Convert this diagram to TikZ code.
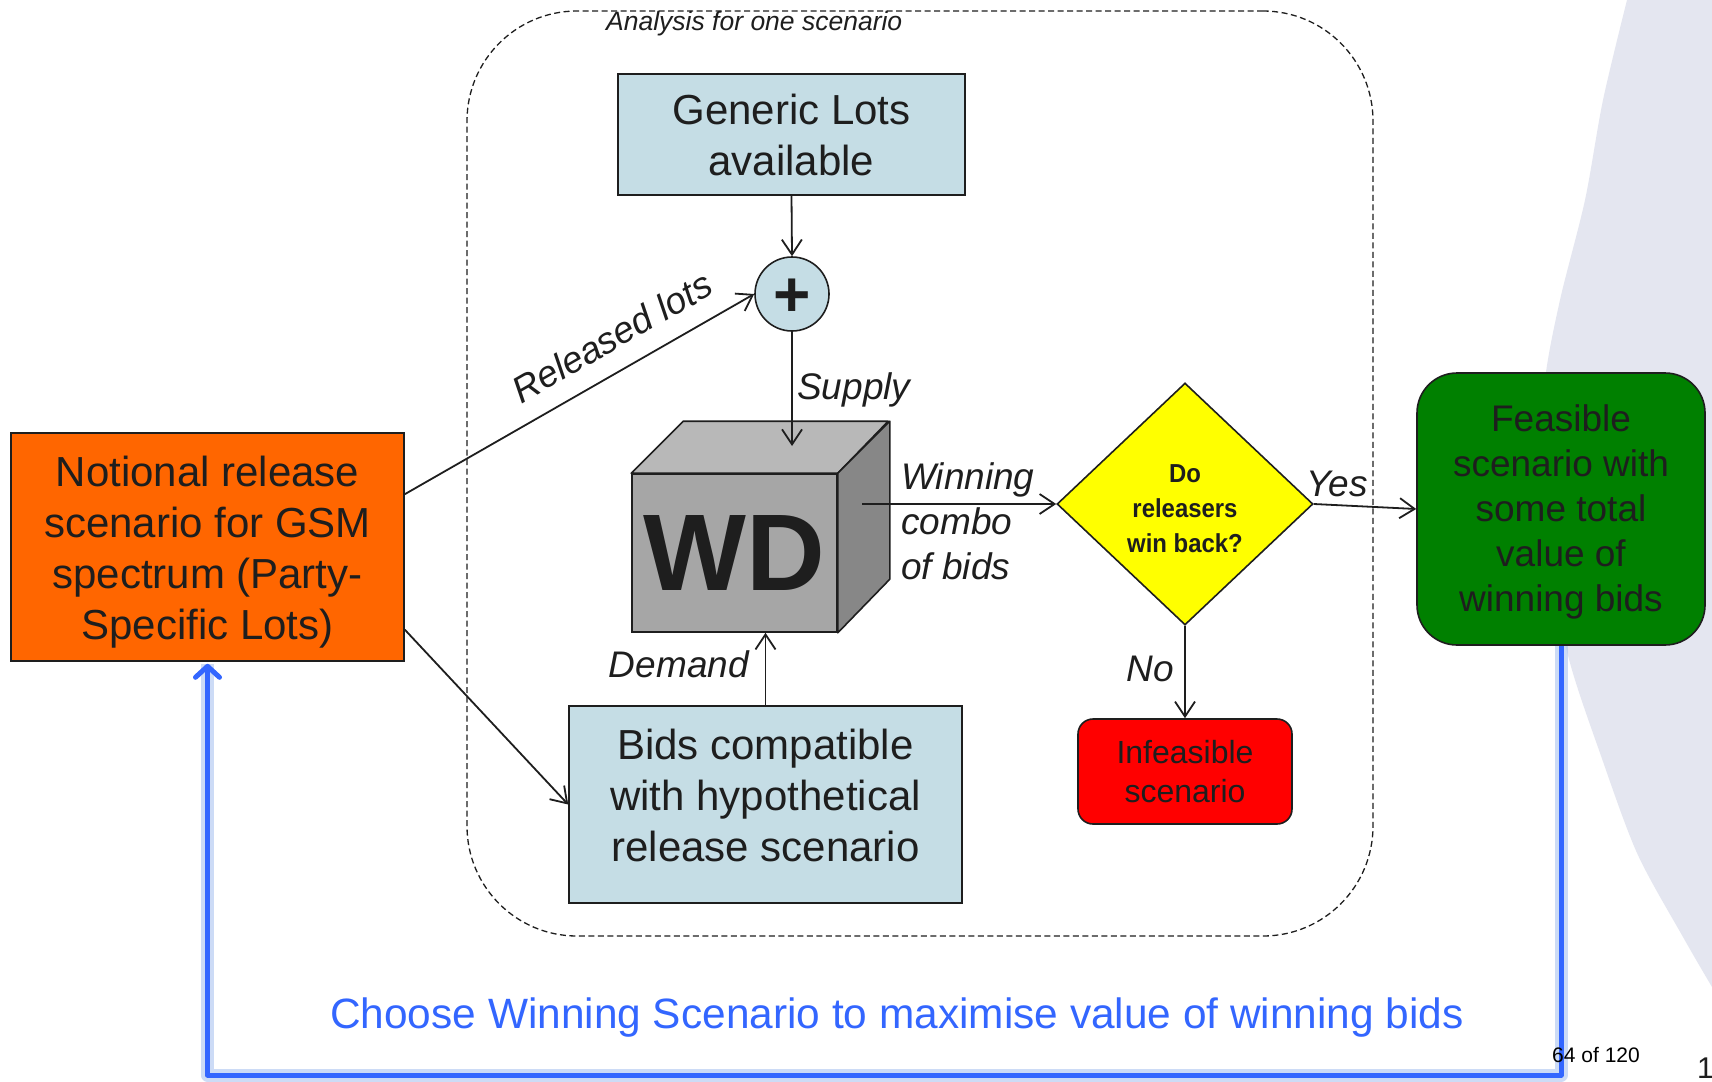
\documentclass[tikz,border=0pt]{standalone}
\usepackage{fontspec}
\setmainfont{Liberation Sans}
\newfontfamily\narrowfont[FakeStretch=0.92]{Liberation Sans}
\usetikzlibrary{arrows.meta,shapes.geometric,calc}
\definecolor{txt}{RGB}{30,30,30}
\definecolor{lblue}{RGB}{197,221,229}
\definecolor{orng}{RGB}{255,102,0}
\definecolor{grn}{RGB}{0,128,0}
\definecolor{redbox}{RGB}{255,0,0}
\definecolor{yel}{RGB}{255,255,0}
\definecolor{loopblue}{RGB}{51,102,255}
\definecolor{glowblue}{RGB}{170,195,240}
\definecolor{bggray}{RGB}{228,230,240}
\definecolor{cubefront}{RGB}{166,166,166}
\definecolor{cubetop}{RGB}{184,184,184}
\definecolor{cubeside}{RGB}{135,135,135}
\begin{document}
\begin{tikzpicture}[x=1pt,y=-1pt,
  box/.style={draw=txt, line width=1.6pt, inner sep=0pt, align=center, text=txt},
  boxtext/.style={inner sep=0pt, align=center, text=txt},
  bigtext/.style={font=\fontsize{42}{51}\selectfont},
  midtext/.style={font=\fontsize{37}{45}\selectfont},
  lbl/.style={font=\itshape\fontsize{37}{45}\selectfont, text=txt, inner sep=0pt},
  conn/.style={draw=txt, line width=1.8pt, -{Straight Barb[length=15pt,width=20pt]}},
]
\fill[white] (0,0) rectangle (1712,1081);
\useasboundingbox (0,0) rectangle (1712,1081);
% background curve
\fill[bggray] plot[smooth] coordinates {(1627,0) (1603,100) (1585,200) (1560,300) (1545,380) (1541,470) (1550,570) (1570,663) (1600,753) (1637,853) (1683,937) (1712,987)} -- (1712,0) -- cycle;

% container
\node[draw=txt, dash pattern=on 6pt off 3.5pt, line width=1.3pt, rounded corners=110pt,
      minimum width=906pt, minimum height=925pt, inner sep=0pt] (scen) at (920,473.5) {};
\node[anchor=west, font=\itshape\fontsize{26.5}{30}\selectfont, text=txt, inner sep=0pt] (scenlbl) at (606,24) {Analysis for one scenario};

% boxes
\node[box, fill=orng, minimum width=393pt, minimum height=228pt] (nat) at (207.5,547) {};
\node[boxtext, bigtext] (natT) at (207.5,552)
  {Notional release\\scenario for GSM\\spectrum (Party-\\Specific Lots)};
\node[box, fill=lblue, bigtext, minimum width=347pt, minimum height=121pt] (gen) at (791.5,134.5)
  {Generic Lots\\available};
\node[circle, draw=txt, line width=1.6pt, fill=lblue, minimum size=74pt, inner sep=0pt,
      font=\bfseries\fontsize{64}{64}\selectfont, text=txt] (plus) at (792,294) {\raisebox{-22pt}[0pt][0pt]{+}};
\node[box, fill=lblue, minimum width=393pt, minimum height=197pt] (bids) at (765.5,804.5) {};
\node[boxtext, bigtext] (bidsT) at (765.5,795.5)
  {Bids compatible\\with hypothetical\\release scenario};

% cube
\node[draw=txt, line width=1.6pt, fill=cubefront, minimum width=205pt, minimum height=158pt,
      inner sep=0pt, font=\bfseries\fontsize{109}{109}\selectfont, text=txt] (wd) at (734.5,553) {WD};
\draw[fill=cubetop, draw=txt, line width=1.6pt, line join=round]
  (wd.north west) -- ++(52,-52) -- ++(205,0) -- (wd.north east) -- cycle;
\draw[fill=cubeside, draw=txt, line width=1.6pt, line join=round]
  (wd.north east) -- ++(52,-52) -- ++(0,158) -- (wd.south east) -- cycle;

\node[diamond, draw=txt, line width=1.6pt, fill=yel, minimum width=256pt, minimum height=242pt,
      inner sep=0pt] (dia) at (1185,504) {};
\node[boxtext, font=\narrowfont\bfseries\fontsize{26}{35}\selectfont] (diaT) at (1185,509)
  {Do\\releasers\\win back?};
\node[box, fill=grn, rounded corners=40pt, minimum width=288pt, minimum height=272pt] (feas) at (1561,509) {};
\node[boxtext, midtext] (feasT) at (1561,512)
  {Feasible\\scenario with\\some total\\value of\\winning bids};
\node[box, fill=redbox, font=\fontsize{32}{39}\selectfont, rounded corners=15pt,
      minimum width=214pt, minimum height=105pt] (infe) at (1185,771.5) {Infeasible\\scenario};

% blue loop
\coordinate (bot) at (0,1075);
\draw[glowblue, line width=13pt, opacity=0.6, line join=round]
  (feas.south) -- (feas.south |- bot) -- (nat.south |- bot) -- ([yshift=-2pt]nat.south);
\draw[loopblue, line width=5pt, line join=round, -{Straight Barb[length=11pt,width=24pt,round]}]
  (feas.south) -- (feas.south |- bot) -- (nat.south |- bot) -- ([yshift=-2pt]nat.south);

% connectors
\coordinate (natR1) at ($(nat.north east)!0.27!(nat.south east)$);
\coordinate (natR2) at ($(nat.north east)!0.86!(nat.south east)$);
\draw[conn] (gen.south) -- (plus.north);
\draw[conn] (natR1) -- node[lbl, sloped, above=19pt, pos=0.64] (rel) {Released lots} (plus.west);
\draw[conn] (natR2) -- (bids.west);
\coordinate (supend) at (792,446);
\draw[conn] (plus.south) -- (supend);
\draw[conn] (bids.north) -- (bids.north |- wd.south);
\coordinate (wdout) at (862,504);
\draw[conn] (wdout) -- (dia.west);
\draw[conn] (dia.east) -- (feas.west);
\draw[conn] (dia.south) -- (infe.north);

% labels
\node[lbl, anchor=west] (sup) at (797,390) {Supply};
\node[lbl, anchor=west, align=left] (win) at (901,521) {Winning\\combo\\of bids};
\node[lbl, anchor=east] (dem) at (749,664) {Demand};
\node[lbl] (yes) at (1337,484) {Yes};
\node[lbl] (no) at (1150,669) {No};

\node[text=loopblue, font=\fontsize{42.4}{50}\selectfont, inner sep=0pt] (choose) at (897,1018)
  {Choose Winning Scenario to maximise value of winning bids};
\node[font=\fontsize{21}{25}\selectfont, inner sep=0pt] (pg) at (1596,1055) {64 of 120};
\node[anchor=north west, font=\fontsize{30}{30}\selectfont, inner sep=0pt, text=txt] (one) at (1697,1058) {1};
\end{tikzpicture}
\end{document}
